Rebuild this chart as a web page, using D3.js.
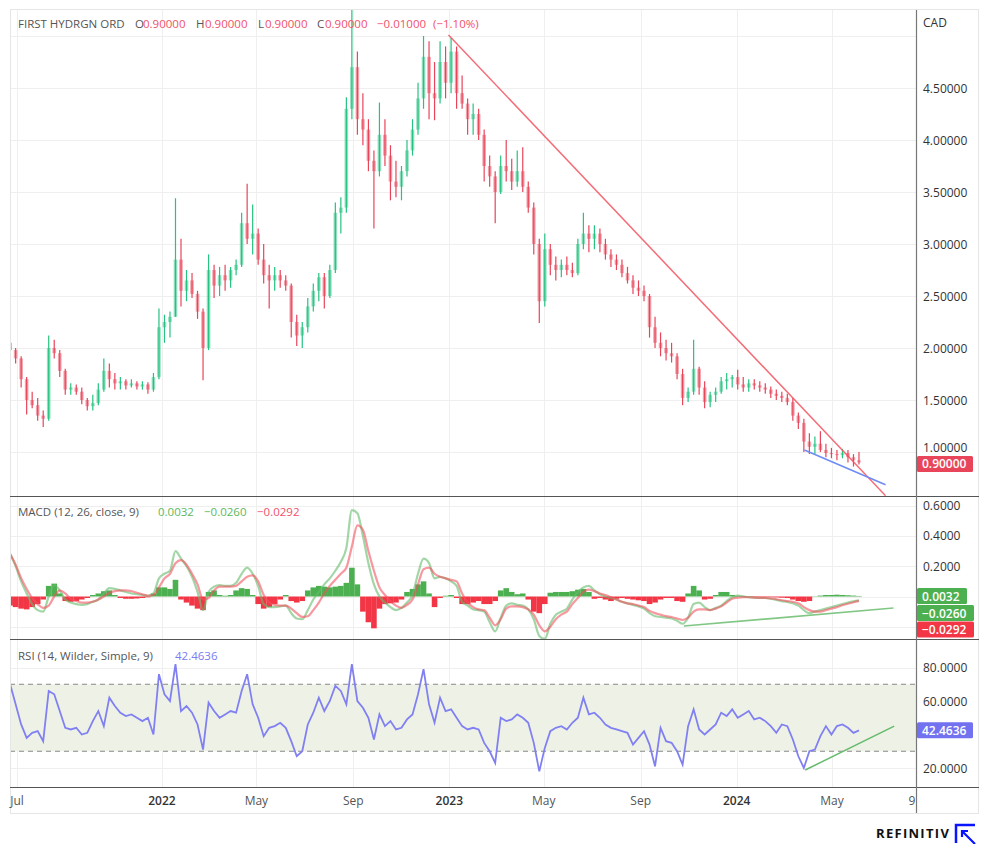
<!DOCTYPE html>
<html>
<head>
<meta charset="utf-8">
<script src="https://cdn.jsdelivr.net/npm/d3@7"></script>
<style>
  body { margin: 0; background: #fff; }
  svg { font-family: "Open Sans", "Noto Sans", sans-serif; }
</style>
</head>
<body>
<div id="chart"></div>
<script>
// weekly bars, first week starts here
const firstWeek = "2021-06-21";

const opens = [
  2.05,1.98,1.90,1.70,1.50,1.45,1.35,1.32,2.00,1.95, 1.78,1.60,1.62,1.58,1.50,1.44,1.47,1.60,1.78,1.70,
  1.66,1.68,1.64,1.66,1.63,1.65,1.60,1.72,2.20,2.25, 2.30,2.85,2.55,2.65,2.52,2.35,2.00,2.75,2.60,2.70,
  2.65,2.75,2.80,3.20,3.05,3.10,2.85,2.70,2.65,2.70, 2.65,2.60,2.25,2.12,2.20,2.40,2.55,2.68,2.50,2.75,
  3.30,3.35,4.30,4.70,4.20,4.10,3.80,3.70,4.05,3.85, 3.60,3.55,3.70,3.90,4.10,4.40,4.80,4.45,4.40,4.75,
  4.55,4.85,4.45,4.35,4.20,4.25,4.05,3.75,3.65,3.50, 3.75,3.70,3.60,3.70,3.55,3.35,3.00,2.45,2.95,2.80,
  2.75,2.80,2.75,2.72,3.00,3.10,3.05,3.10,3.00,2.90, 2.85,2.80,2.72,2.65,2.58,2.55,2.50,2.20,2.05,2.00,
  1.95,1.92,1.75,1.52,1.58,1.80,1.62,1.48,1.55,1.58, 1.68,1.70,1.72,1.65,1.62,1.66,1.64,1.62,1.60,1.56,
  1.54,1.52,1.48,1.35,1.28,1.10,1.05,1.08,1.02,0.99, 0.98,0.97,0.99,0.95,0.92
];
const highs = [
  2.10,2.00,1.92,1.72,1.58,1.52,1.40,2.12,2.08,1.98, 1.80,1.66,1.65,1.62,1.52,1.55,1.66,1.90,1.85,1.76,
  1.72,1.70,1.70,1.68,1.68,1.67,1.76,2.38,2.32,2.35, 3.44,3.05,2.75,2.72,2.55,2.38,2.90,2.80,2.78,2.80,
  2.78,2.85,3.30,3.58,3.38,3.15,3.00,2.80,2.78,2.75, 2.70,2.62,2.32,2.25,2.48,2.62,2.72,2.72,2.80,3.40,
  3.45,4.41,5.25,4.85,4.45,4.20,3.90,4.36,4.20,3.95, 3.80,3.75,4.00,4.20,4.55,5.00,4.95,4.75,4.95,4.90,
  4.98,4.90,4.62,4.40,4.35,4.30,4.10,3.85,3.70,3.85, 4.00,3.82,3.90,3.93,3.60,3.40,3.05,3.10,3.00,2.88,
  2.85,2.88,2.82,3.05,3.30,3.18,3.18,3.15,3.05,2.95, 2.90,2.85,2.78,2.70,2.65,2.60,2.52,2.30,2.15,2.08,
  2.05,1.95,1.80,1.62,2.08,1.82,1.68,1.58,1.62,1.72, 1.76,1.74,1.79,1.72,1.70,1.70,1.68,1.66,1.63,1.60,
  1.58,1.56,1.52,1.38,1.32,1.18,1.15,1.20,1.08,1.04, 1.02,1.03,1.02,0.98,1.00
];
const lows = [
  1.95,1.85,1.62,1.36,1.42,1.30,1.24,1.30,1.90,1.72, 1.55,1.55,1.55,1.46,1.40,1.40,1.45,1.58,1.62,1.60,
  1.60,1.60,1.62,1.60,1.60,1.56,1.58,1.70,2.05,2.10, 2.30,2.40,2.45,2.48,2.28,1.69,1.98,2.48,2.50,2.55,
  2.58,2.70,2.78,3.00,2.90,2.80,2.62,2.38,2.55,2.58, 2.55,2.10,2.02,2.00,2.15,2.35,2.45,2.38,2.48,2.72,
  3.10,3.30,4.20,4.05,3.95,3.70,3.15,3.65,3.75,3.42, 3.45,3.42,3.65,3.85,4.05,4.30,4.20,4.19,4.35,4.40,
  4.45,4.30,4.30,4.05,4.05,4.00,3.60,3.55,3.20,3.48, 3.60,3.52,3.55,3.50,3.30,2.90,2.24,2.40,2.70,2.65,
  2.68,2.70,2.68,2.70,2.95,2.92,2.95,2.92,2.85,2.78, 2.75,2.68,2.62,2.52,2.50,2.45,2.10,2.00,1.92,1.88,
  1.86,1.70,1.45,1.48,1.55,1.55,1.42,1.43,1.48,1.56, 1.60,1.62,1.60,1.58,1.58,1.60,1.58,1.56,1.52,1.50,
  1.48,1.45,1.30,1.22,1.00,0.98,0.97,1.00,0.95,0.94, 0.92,0.94,0.90,0.86,0.88
];
const closes = [
  1.98,1.90,1.70,1.50,1.45,1.35,1.32,2.00,1.95,1.78, 1.60,1.62,1.58,1.50,1.44,1.47,1.60,1.78,1.70,1.66,
  1.68,1.64,1.66,1.63,1.65,1.60,1.72,2.20,2.25,2.30, 2.85,2.55,2.65,2.52,2.35,2.00,2.75,2.60,2.70,2.65,
  2.75,2.80,3.20,3.05,3.10,2.85,2.70,2.65,2.70,2.65, 2.60,2.25,2.12,2.20,2.40,2.55,2.68,2.50,2.75,3.30,
  3.35,4.30,4.70,4.20,4.10,3.80,3.70,4.05,3.85,3.60, 3.55,3.70,3.90,4.10,4.40,4.80,4.45,4.40,4.75,4.55,
  4.85,4.45,4.35,4.20,4.25,4.05,3.75,3.65,3.50,3.75, 3.70,3.60,3.70,3.55,3.35,3.00,2.45,2.95,2.80,2.75,
  2.80,2.75,2.72,3.00,3.10,3.05,3.10,3.00,2.90,2.85, 2.80,2.72,2.65,2.58,2.55,2.50,2.20,2.05,2.00,1.95,
  1.92,1.75,1.52,1.58,1.80,1.62,1.48,1.55,1.58,1.68, 1.70,1.72,1.65,1.62,1.66,1.64,1.62,1.60,1.56,1.54,
  1.52,1.48,1.35,1.28,1.10,1.05,1.08,1.02,0.99,0.98, 0.97,0.99,0.95,0.92,0.90
];

const macdLine = [
  0.28,0.20,0.10,0.02,-0.05,-0.09,-0.10,0.0,0.075,0.04, -0.02,-0.04,-0.05,-0.055,-0.05,-0.035,-0.02,0.02,0.055,0.05,
  0.04,0.03,0.02,0.015,0.01,0.005,0.02,0.12,0.15,0.17, 0.30,0.25,0.20,0.13,0.03,-0.09,0.03,0.065,0.075,0.07,
  0.07,0.09,0.15,0.19,0.15,0.07,-0.05,-0.07,-0.07,-0.065, -0.06,-0.11,-0.145,-0.15,-0.09,-0.02,0.03,0.08,0.12,0.17,
  0.23,0.32,0.57,0.55,0.40,0.22,0.08,0.0,-0.04,-0.07, -0.09,-0.075,-0.04,0.01,0.15,0.25,0.22,0.12,0.13,0.12,
  0.10,0.07,-0.035,-0.06,-0.085,-0.09,-0.10,-0.17,-0.23,-0.14, -0.06,-0.045,-0.055,-0.06,-0.085,-0.15,-0.26,-0.28,-0.18,-0.12,
  -0.10,-0.08,-0.02,0.03,0.06,0.07,0.04,0.015,0.0,-0.01, -0.02,-0.035,-0.045,-0.055,-0.065,-0.08,-0.11,-0.13,-0.135,-0.14,
  -0.145,-0.16,-0.18,-0.14,-0.05,-0.04,-0.07,-0.09,-0.075,-0.06, -0.03,-0.005,0.006,0.0,-0.005,-0.008,-0.01,-0.01,-0.015,-0.022,
  -0.03,-0.035,-0.045,-0.06,-0.09,-0.11,-0.10,-0.09,-0.08,-0.07, -0.06,-0.05,-0.04,-0.032,-0.026
];
const signalLine = [
  0.28,0.21,0.12,0.05,-0.01,-0.05,-0.075,-0.06,0.0,0.04, 0.02,-0.015,-0.03,-0.04,-0.04,-0.035,-0.02,0.0,0.025,0.035,
  0.04,0.04,0.035,0.025,0.015,0.005,0.01,0.06,0.12,0.15, 0.22,0.24,0.21,0.15,0.08,-0.02,-0.01,0.04,0.065,0.065,
  0.065,0.07,0.10,0.13,0.14,0.10,0.01,-0.04,-0.055,-0.06, -0.06,-0.08,-0.11,-0.135,-0.13,-0.09,-0.04,0.02,0.07,0.11,
  0.15,0.19,0.33,0.47,0.44,0.30,0.17,0.06,0.01,-0.03, -0.06,-0.075,-0.055,-0.02,0.08,0.18,0.19,0.15,0.13,0.12,
  0.11,0.10,0.02,-0.04,-0.07,-0.085,-0.09,-0.14,-0.19,-0.15, -0.08,-0.065,-0.065,-0.07,-0.085,-0.12,-0.19,-0.23,-0.20,-0.15,
  -0.12,-0.10,-0.05,-0.01,0.03,0.045,0.035,0.02,0.01,-0.005, -0.02,-0.035,-0.045,-0.05,-0.06,-0.07,-0.095,-0.11,-0.12,-0.13,
  -0.135,-0.145,-0.155,-0.14,-0.10,-0.085,-0.085,-0.09,-0.08,-0.065, -0.04,-0.015,-0.008,-0.004,-0.005,-0.007,-0.009,-0.01,-0.013,-0.018,
  -0.025,-0.03,-0.035,-0.045,-0.07,-0.09,-0.10,-0.10,-0.09,-0.08, -0.07,-0.058,-0.048,-0.038,-0.029
];
const macdHist = [
  -0.06,-0.07,-0.08,-0.085,-0.07,-0.05,-0.02,0.07,0.085,0.02, -0.03,-0.035,-0.03,-0.02,-0.01,0.01,0.02,0.035,0.04,0.01,
  -0.01,-0.015,-0.015,-0.013,-0.01,-0.005,0.02,0.06,0.06,0.05, 0.11,-0.02,-0.04,-0.06,-0.08,-0.09,0.03,0.04,0.01,0.005,
  0.01,0.04,0.055,0.05,0.01,-0.05,-0.08,-0.07,-0.05,-0.02, 0.01,-0.03,-0.04,-0.03,0.04,0.06,0.07,0.065,0.06,0.065,
  0.07,0.09,0.19,0.08,-0.10,-0.17,-0.21,-0.08,-0.05,-0.045, -0.04,-0.02,0.03,0.05,0.08,0.10,0.02,-0.07,-0.01,0.005,
  0.01,-0.01,-0.05,-0.05,-0.04,-0.03,-0.05,-0.05,-0.03,0.04, 0.055,0.03,0.015,0.02,-0.02,-0.10,-0.11,-0.05,0.025,0.03,
  0.03,0.03,0.035,0.045,0.05,0.03,-0.015,-0.01,-0.02,-0.03, -0.015,-0.01,-0.015,-0.02,-0.025,-0.03,-0.05,-0.04,-0.02,-0.01,
  -0.01,-0.03,-0.035,0.02,0.07,0.04,-0.02,-0.015,0.01,0.03, 0.03,0.01,0.005,0.004,0.003,-0.003,-0.004,-0.005,-0.005,-0.006,
  -0.008,-0.01,-0.02,-0.03,-0.035,-0.03,0.002,0.006,0.01,0.01, 0.012,0.01,0.008,0.006,0.0032
];

const rsiValues = [
  70,58,46,38,41,42,36,66,64,54, 44,43,44,40,41,48,54,45,62,57,
  53,51,52,50,48,50,40,76,64,60, 82,54,57,53,46,31,59,54,50,52,
  54,53,66,76,58,50,39,44,45,47, 44,36,27,30,46,53,62,54,60,69,
  66,58,82,60,56,50,37,52,45,48, 43,44,49,52,64,79,58,47,62,54,
  55,50,45,43,44,43,35,30,23,50, 48,49,52,50,47,35,18,32,42,44,
  45,43,47,50,62,52,53,50,46,44, 43,42,41,34,38,42,34,21,44,36,
  35,30,22,45,55,43,40,43,46,53, 51,55,50,52,54,49,50,48,45,41,
  46,45,37,27,20,30,31,39,45,40, 45,46,44,41,42.4636
];

// drawn trend lines: [date, value]
const priceTrendRed = [["2022-12-31", 5.01], ["2024-07-08", 0.58]];
const priceTrendBlue = [["2024-03-27", 1.02], ["2024-07-08", 0.685]];
const macdTrend = [["2023-10-26", -0.195], ["2024-07-18", -0.076]];
const rsiTrend = [["2024-03-28", 18.8], ["2024-07-19", 45]];

const monthTicks = ["2021-07-01","2022-01-01","2022-05-01","2022-09-01","2023-01-01","2023-05-01","2023-09-01","2024-01-01","2024-05-01"];
const monthLabels = ["Jul","2022","May","Sep","2023","May","Sep","2024","May"];
const priceTicks = [1.0, 1.5, 2.0, 2.5, 3.0, 3.5, 4.0, 4.5];
const priceGrid = [1.0, 1.5, 2.0, 2.5, 3.0, 3.5, 4.0, 4.5, 5.0];
const macdGrid = [0.6, 0.4, 0.2, 0.0, -0.2];
const macdTicks = [0.6, 0.4, 0.2];
const rsiGrid = [80, 60, 40, 20];
const rsiTicks = [80, 60, 20];

// layout
const W = 987, H = 844;
const plotL = 10, plotR = 916, axisR = 978;
const panes = {
  price: { top: 10, bottom: 496 },
  macd: { top: 497, bottom: 639 },
  rsi: { top: 640, bottom: 787 }
};
const axisBottom = 813;

const up = "#26c281", down = "#e8455a";
const redText = "#f0506a", grayText = "#555";

const parse = d3.timeParse("%Y-%m-%d");
const start = parse(firstWeek);
const dates = closes.map((d, i) => d3.timeDay.offset(start, 7 * i));

const x = d3.scaleTime()
  .domain([parse("2021-07-01"), parse("2024-05-01")])
  .range([17, 832]);
const yPrice = d3.scaleLinear().domain([1, 5]).range([452, 36]);
const yMacd = d3.scaleLinear().domain([0, 0.6]).range([596.5, 505.6]);
const yRsi = d3.scaleLinear().domain([20, 80]).range([768, 667.5]);

const svg = d3.select("#chart").append("svg")
  .attr("width", W).attr("height", H);

svg.append("rect").attr("width", W).attr("height", H).attr("fill", "#fff");

// clip paths for each pane
const defs = svg.append("defs");
Object.entries(panes).forEach(([k, p]) => {
  defs.append("clipPath").attr("id", "clip-" + k)
    .append("rect")
    .attr("x", plotL).attr("y", p.top)
    .attr("width", plotR - plotL).attr("height", p.bottom - p.top);
});

// grid
const grid = svg.append("g").attr("stroke", "#efefef").attr("stroke-width", 1);
grid.selectAll("line.v").data(monthTicks).join("line")
  .attr("x1", d => Math.round(x(parse(d))) + 0.5).attr("x2", d => Math.round(x(parse(d))) + 0.5)
  .attr("y1", panes.price.top).attr("y2", panes.rsi.bottom);
grid.selectAll("line.p").data(priceGrid).join("line")
  .attr("x1", plotL).attr("x2", plotR)
  .attr("y1", d => Math.round(yPrice(d)) + 0.5).attr("y2", d => Math.round(yPrice(d)) + 0.5);
grid.selectAll("line.m").data(macdGrid).join("line")
  .attr("x1", plotL).attr("x2", plotR)
  .attr("y1", d => Math.round(yMacd(d)) + 0.5).attr("y2", d => Math.round(yMacd(d)) + 0.5);
grid.selectAll("line.r").data(rsiGrid).join("line")
  .attr("x1", plotL).attr("x2", plotR)
  .attr("y1", d => Math.round(yRsi(d)) + 0.5).attr("y2", d => Math.round(yRsi(d)) + 0.5);

// ---- price pane
const gPrice = svg.append("g").attr("clip-path", "url(#clip-price)");
const idx = d3.range(closes.length);
const col = i => closes[i] >= opens[i] ? up : down;

gPrice.selectAll("line.wick").data(idx).join("line")
  .attr("x1", i => x(dates[i]) + 1).attr("x2", i => x(dates[i]) + 1)
  .attr("y1", i => yPrice(highs[i])).attr("y2", i => yPrice(lows[i]))
  .attr("stroke", col).attr("stroke-width", 1.2);

gPrice.selectAll("rect.body").data(idx).join("rect")
  .attr("x", i => x(dates[i]) + 1 - 1.8).attr("width", 3.6)
  .attr("y", i => yPrice(Math.max(opens[i], closes[i])))
  .attr("height", i => Math.max(1, Math.abs(yPrice(opens[i]) - yPrice(closes[i]))))
  .attr("fill", col).attr("fill-opacity", 0.5);

const trendLine = (scale) => d3.line().x(d => x(parse(d[0]))).y(d => scale(d[1]));
gPrice.append("path").datum(priceTrendRed).attr("d", trendLine(yPrice))
  .attr("fill", "none").attr("stroke", "#f2525f").attr("stroke-width", 1.5).attr("stroke-opacity", 0.85);
gPrice.append("path").datum(priceTrendBlue).attr("d", trendLine(yPrice))
  .attr("fill", "none").attr("stroke", "#6f8cf5").attr("stroke-width", 1.6);

// ---- MACD pane
const gMacd = svg.append("g").attr("clip-path", "url(#clip-macd)");
gMacd.selectAll("rect").data(idx).join("rect")
  .attr("x", i => x(dates[i]) + 1 - 2.8).attr("width", 5.6)
  .attr("y", i => Math.min(yMacd(0), yMacd(macdHist[i])))
  .attr("height", i => Math.abs(yMacd(macdHist[i]) - yMacd(0)))
  .attr("fill", i => macdHist[i] >= 0 ? "#4caf50" : "#f23645");

const lineFor = (arr, scale, curve) => d3.line()
  .x((d, i) => x(dates[i]) + 1).y(d => scale(d))
  .curve(curve)(arr);
gMacd.append("path").attr("d", lineFor(macdLine, yMacd, d3.curveMonotoneX))
  .attr("fill", "none").attr("stroke", "#66bb6a").attr("stroke-width", 2.2).attr("stroke-opacity", 0.6);
gMacd.append("path").attr("d", lineFor(signalLine, yMacd, d3.curveMonotoneX))
  .attr("fill", "none").attr("stroke", "#f2525f").attr("stroke-width", 2.2).attr("stroke-opacity", 0.6);
gMacd.append("path").datum(macdTrend).attr("d", trendLine(yMacd))
  .attr("fill", "none").attr("stroke", "#81c784").attr("stroke-width", 1.6);

// ---- RSI pane
const gRsi = svg.append("g").attr("clip-path", "url(#clip-rsi)");
gRsi.append("rect")
  .attr("x", plotL).attr("width", plotR - plotL)
  .attr("y", yRsi(70)).attr("height", yRsi(30) - yRsi(70))
  .attr("fill", "#eef2e6");
[70, 30].forEach(v => {
  gRsi.append("line")
    .attr("x1", plotL).attr("x2", plotR)
    .attr("y1", yRsi(v)).attr("y2", yRsi(v))
    .attr("stroke", "#888").attr("stroke-dasharray", "5,4");
});
gRsi.append("path").attr("d", lineFor(rsiValues, yRsi, d3.curveLinear))
  .attr("fill", "none").attr("stroke", "#8080f2").attr("stroke-width", 1.8);
gRsi.append("path").datum(rsiTrend).attr("d", trendLine(yRsi))
  .attr("fill", "none").attr("stroke", "#66bb6a").attr("stroke-width", 1.5);

// ---- frame and separators
const frame = svg.append("g");
frame.append("rect")
  .attr("x", 10.5).attr("y", 9.5).attr("width", axisR - 10).attr("height", axisBottom - 9)
  .attr("fill", "none").attr("stroke", "#e6e6e6");
frame.selectAll("line.sep").data([panes.price.bottom, panes.macd.bottom, panes.rsi.bottom]).join("line")
  .attr("x1", plotL).attr("x2", axisR + 1)
  .attr("y1", d => d + 0.5).attr("y2", d => d + 0.5)
  .attr("stroke", "#555").attr("stroke-width", 1.2);
frame.append("line")
  .attr("x1", plotR + 0.5).attr("x2", plotR + 0.5)
  .attr("y1", 10).attr("y2", axisBottom)
  .attr("stroke", "#777").attr("stroke-width", 1.2);

// ---- x axis labels
const xAxis = svg.append("g").attr("font-size", 12);
xAxis.selectAll("text").data(monthTicks).join("text")
  .attr("x", d => x(parse(d)))
  .attr("y", 805)
  .attr("text-anchor", "middle")
  .attr("fill", (d, i) => /^\d/.test(monthLabels[i]) ? "#333" : "#555")
  .attr("font-weight", (d, i) => /^\d/.test(monthLabels[i]) ? 600 : 400)
  .text((d, i) => monthLabels[i]);
xAxis.append("text").attr("x", 912).attr("y", 805).attr("text-anchor", "middle")
  .attr("fill", "#555").text("9");

// ---- right axes
const rAxis = svg.append("g").attr("font-size", 12).attr("fill", "#333");
rAxis.append("text").attr("x", 923).attr("y", 27).text("CAD");
rAxis.selectAll("text.p").data(priceTicks).join("text")
  .attr("x", 923).attr("y", d => yPrice(d) + (d === 1 ? 0 : 4.5)).text(d => d3.format(".5f")(d));
rAxis.selectAll("text.m").data(macdTicks).join("text")
  .attr("x", 923).attr("y", d => yMacd(d) + 4.5).text(d => d3.format(".4f")(d));
rAxis.selectAll("text.r").data(rsiTicks).join("text")
  .attr("x", 923).attr("y", d => yRsi(d) + 4.5).text(d => d3.format(".4f")(d));

// value boxes on the axis
const boxes = [
  { y: yPrice(closes[closes.length - 1]) + 1.5, w: 56, fill: "#e8455a", text: "0.90000" },
  { y: 596, w: 50, fill: "#4caf50", text: "0.0032" },
  { y: 613, w: 57, fill: "#4caf50", text: "\u22120.0260" },
  { y: 629.5, w: 57, fill: "#f23645", text: "\u22120.0292" },
  { y: yRsi(rsiValues[rsiValues.length - 1]), w: 56, fill: "#7272f0", text: "42.4636" }
];
const bx = svg.append("g");
boxes.forEach(b => {
  bx.append("rect").attr("x", plotR + 1).attr("y", b.y - 8).attr("width", b.w).attr("height", 16)
    .attr("rx", 1.5).attr("fill", b.fill);
  bx.append("text").attr("x", plotR + 6).attr("y", b.y + 4.5)
    .attr("font-size", 12).attr("font-weight", 600).attr("fill", "#fff").text(b.text);
});

// ---- legends
function legend(y, parts) {
  const t = svg.append("g").attr("font-size", 11.5);
  parts.forEach(p => {
    t.append("text").attr("x", p[1]).attr("y", y).attr("fill", p[2]).text(p[0]);
  });
}
legend(28, [
  ["FIRST HYDRGN ORD", 18, grayText],
  ["O", 135, grayText], ["0.90000", 143, redText],
  ["H", 196, grayText], ["0.90000", 205, redText],
  ["L", 258, grayText], ["0.90000", 265, redText],
  ["C", 317, grayText], ["0.90000", 325, redText],
  ["\u22120.01000", 377, redText], ["(\u22121.10%)", 433, redText]
]);
legend(516, [
  ["MACD (12, 26, close, 9)", 18, grayText],
  ["0.0032", 158, "#5cb85c"], ["\u22120.0260", 204, "#5cb85c"], ["\u22120.0292", 257, redText]
]);
legend(660, [
  ["RSI (14, Wilder, Simple, 9)", 18, grayText],
  ["42.4636", 175, "#7b7bf2"]
]);

// ---- logo
const logo = svg.append("g");
logo.append("text").attr("x", 876).attr("y", 838)
  .attr("font-size", 13).attr("font-weight", 700).attr("letter-spacing", 1.3)
  .attr("fill", "#111").text("REFINITIV");
logo.append("path").attr("d", "M956,843 V825 H975")
  .attr("fill", "none").attr("stroke", "#0a14ff").attr("stroke-width", 2.5);
logo.append("path").attr("d", "M962,837 V831 H968 M962,831 L975,844")
  .attr("fill", "none").attr("stroke", "#0a14ff").attr("stroke-width", 2.2);
</script>
</body>
</html>
